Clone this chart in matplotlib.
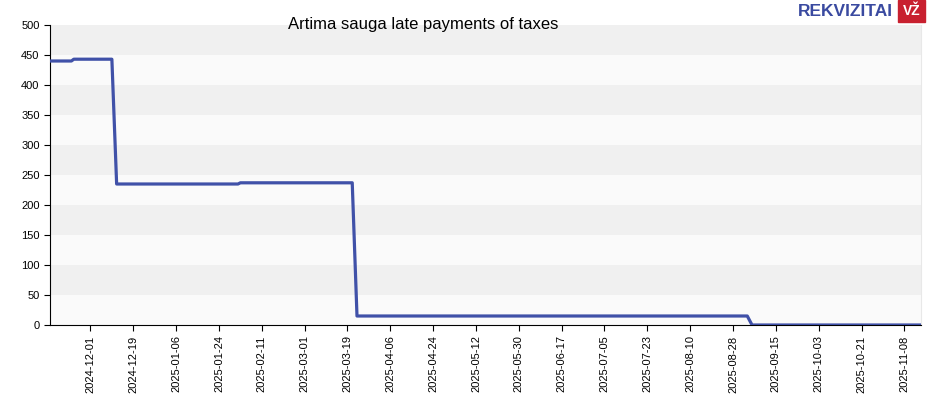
import matplotlib
matplotlib.use("Agg")
import matplotlib.pyplot as plt
import datetime as dt

plt.rcParams['font.family'] = ['Liberation Sans', 'DejaVu Sans']

# donnees
dates = ['2024-11-14', '2024-11-23', '2024-11-24', '2024-12-10', '2024-12-12',
         '2025-02-01', '2025-02-02', '2025-03-21', '2025-03-23',
         '2025-09-03', '2025-09-05', '2025-11-15']
values = [440, 440, 443, 443, 235, 235, 237, 237, 15, 15, 0, 0]
tick_dates = ['2024-12-01', '2024-12-19', '2025-01-06', '2025-01-24', '2025-02-11',
              '2025-03-01', '2025-03-19', '2025-04-06', '2025-04-24', '2025-05-12',
              '2025-05-30', '2025-06-17', '2025-07-05', '2025-07-23', '2025-08-10',
              '2025-08-28', '2025-09-15', '2025-10-03', '2025-10-21', '2025-11-08']
y_ticks = [0, 50, 100, 150, 200, 250, 300, 350, 400, 450, 500]
title = "Artima sauga late payments of taxes"

to_d = lambda s: dt.datetime.strptime(s, "%Y-%m-%d")
x = [to_d(d) for d in dates]

fig = plt.figure(figsize=(9.3, 4.0), dpi=100)
ax = fig.add_axes([50/930, 75/400, 871/930, 300/400])
ax.set_facecolor('#fafafa')

# bandes horizontales
for i in range(len(y_ticks) - 1):
    if i % 2 == 1:
        ax.axhspan(y_ticks[i], y_ticks[i+1], color='#f0f0f0', zorder=0, lw=0)

ax.plot(x, values, color='#4051a8', lw=2.3, zorder=3, solid_capstyle='butt')

ax.set_xlim(to_d('2024-11-14'), to_d('2025-11-15'))
ax.set_ylim(0, 500)
ax.set_yticks(y_ticks)
ax.set_xticks([to_d(d) for d in tick_dates])
ax.set_xticklabels(tick_dates, rotation=90, fontsize=8)
ax.tick_params(axis='y', labelsize=8, length=4)
ax.tick_params(axis='x', length=4)

ax.spines['top'].set_visible(False)
ax.spines['right'].set_color('#e8e8e8')
ax.spines['left'].set_color('black')
ax.spines['bottom'].set_color('black')

fig.text(423/930, 1 - 24/400, title, ha='center', va='center', fontsize=12)

# logo
fig.text(893/930, 1 - 11/400, "REKVIZITAI", ha='right', va='center', fontsize=12.5,
         fontweight='bold', color='#3a4aa0')
fig.patches.append(plt.Rectangle((898/930, 1 - 22/400), 27/930, 22/400,
                                 transform=fig.transFigure, color='#c8202f'))
fig.text(911.5/930, 1 - 11/400, "VŽ", ha='center', va='center', fontsize=10,
         fontweight='bold', color='white')

plt.savefig("out.png", dpi=100)
